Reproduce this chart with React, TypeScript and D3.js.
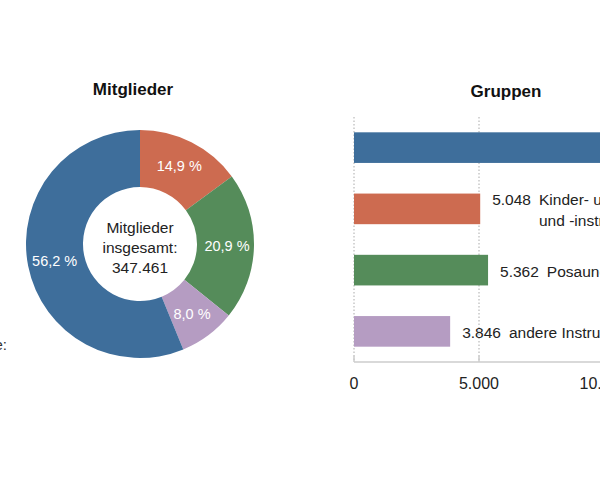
import React, { useEffect, useRef } from "react";
import * as d3 from "d3";

const sliceLabels = ["14,9 %", "20,9 %", "8,0 %", "56,2 %"];
const sliceValues = [14.9, 20.9, 8.0, 56.2];
const colors = ["#cd6b50", "#558c5a", "#b59cc2", "#3e6e9b"];

const groupValues = [14000, 5048, 5362, 3846];
const groupValueLabels = ["", "5.048", "5.362", "3.846"];
const groupNames = [
  [""],
  ["Kinder- und Jugendchöre", "und -instrumentalkreise"],
  ["Posaunenchöre"],
  ["andere Instrumentalgruppen"],
];
const groupColors = ["#3e6e9b", "#cd6b50", "#558c5a", "#b59cc2"];
const xTicks = [0, 5000, 10000];
const xTickLabels = ["0", "5.000", "10.000"];

const centerLines = ["Mitglieder", "insgesamt:", "347.461"];
const font = "'Liberation Sans', Arial, sans-serif";

function App() {
  const ref = useRef<SVGSVGElement>(null);

  useEffect(() => {
    const svg = d3.select(ref.current);
    svg.selectAll("*").remove();

    // donut
    const cx = 140;
    const cy = 244;
    const pie = d3.pie<number>().sort(null)(sliceValues);
    const arc = d3.arc<d3.PieArcDatum<number>>().innerRadius(57).outerRadius(114);
    const labelArc = d3.arc<d3.PieArcDatum<number>>().innerRadius(87).outerRadius(87);
    const dg = svg.append("g").attr("transform", `translate(${cx},${cy})`);
    dg.selectAll("path")
      .data(pie)
      .join("path")
      .attr("d", arc)
      .attr("fill", (d, i) => colors[i]);
    dg.selectAll("text.lbl")
      .data(pie)
      .join("text")
      .attr("class", "lbl")
      .attr("x", (d) => labelArc.centroid(d)[0])
      .attr("y", (d) => labelArc.centroid(d)[1])
      .attr("dy", "0.35em")
      .attr("text-anchor", "middle")
      .attr("fill", "white")
      .style("font", `14.5px ${font}`)
      .text((d, i) => sliceLabels[i]);
    dg.selectAll("text.ctr")
      .data(centerLines)
      .join("text")
      .attr("class", "ctr")
      .attr("y", (d, i) => -16 + i * 20)
      .attr("dy", "0.35em")
      .attr("text-anchor", "middle")
      .attr("fill", "#222")
      .style("font", `15.5px ${font}`)
      .text((d) => d);

    svg
      .append("text")
      .attr("x", 133)
      .attr("y", 89)
      .attr("dy", "0.35em")
      .attr("text-anchor", "middle")
      .style("font", `bold 17px ${font}`)
      .attr("fill", "#111")
      .text("Mitglieder");

    // cut-off legend text on the left
    svg
      .append("text")
      .attr("x", 7)
      .attr("y", 345)
      .attr("dy", "0.35em")
      .attr("text-anchor", "end")
      .style("font", `15px ${font}`)
      .attr("fill", "#333")
      .text("Gruppe:");

    // bars
    const x = d3.scaleLinear().domain([0, 10000]).range([354, 604]);
    const y = d3
      .scaleBand<number>()
      .domain(d3.range(groupValues.length))
      .range([117, 362])
      .paddingInner(0.5)
      .paddingOuter(0.25);

    svg
      .append("text")
      .attr("x", 506)
      .attr("y", 91)
      .attr("dy", "0.35em")
      .attr("text-anchor", "middle")
      .style("font", `bold 17px ${font}`)
      .attr("fill", "#111")
      .text("Gruppen");

    svg
      .append("g")
      .selectAll("line")
      .data(xTicks)
      .join("line")
      .attr("x1", (d) => x(d))
      .attr("x2", (d) => x(d))
      .attr("y1", 117)
      .attr("y2", 362)
      .attr("stroke", "#aaa")
      .attr("stroke-dasharray", "1.5,2");

    svg
      .append("g")
      .selectAll("rect")
      .data(groupValues)
      .join("rect")
      .attr("x", x(0))
      .attr("y", (d, i) => y(i)!)
      .attr("width", (d) => x(d) - x(0))
      .attr("height", y.bandwidth())
      .attr("fill", (d, i) => groupColors[i]);

    const lg = svg.append("g");
    groupValues.forEach((v, i) => {
      if (!groupValueLabels[i]) return;
      const yc = y(i)! + y.bandwidth() / 2;
      const lines = groupNames[i];
      const t0 = yc - (lines.length - 1) * 10.5 + 1;
      const vt = lg
        .append("text")
        .attr("x", x(v) + 12)
        .attr("y", t0)
        .attr("dy", "0.35em")
        .style("font", `15.5px ${font}`)
        .attr("fill", "#222")
        .text(groupValueLabels[i]);
      const w = (vt.node() as SVGTextElement).getComputedTextLength();
      lines.forEach((ln, j) => {
        lg.append("text")
          .attr("x", x(v) + 12 + w + 8)
          .attr("y", t0 + j * 21)
          .attr("dy", "0.35em")
          .style("font", `15.5px ${font}`)
          .attr("fill", "#222")
          .text(ln);
      });
    });

    // axis
    const ag = svg.append("g");
    ag.append("line")
      .attr("x1", x(0))
      .attr("x2", 600)
      .attr("y1", 362)
      .attr("y2", 362)
      .attr("stroke", "#ccc")
      .attr("stroke-width", 1.5);
    ag.selectAll("line.tick")
      .data(xTicks)
      .join("line")
      .attr("class", "tick")
      .attr("x1", (d) => x(d))
      .attr("x2", (d) => x(d))
      .attr("y1", 356)
      .attr("y2", 362)
      .attr("stroke", "#ccc")
      .attr("stroke-width", 1.5);
    ag.selectAll("text")
      .data(xTicks)
      .join("text")
      .attr("x", (d) => x(d))
      .attr("y", 383)
      .attr("dy", "0.35em")
      .attr("text-anchor", "middle")
      .style("font", `16px ${font}`)
      .attr("fill", "#222")
      .text((d, i) => xTickLabels[i]);
  }, []);

  return (
    <svg
      ref={ref}
      width={600}
      height={480}
      style={{ position: "absolute", left: 0, top: 0, background: "white" }}
    />
  );
}

export default App;
